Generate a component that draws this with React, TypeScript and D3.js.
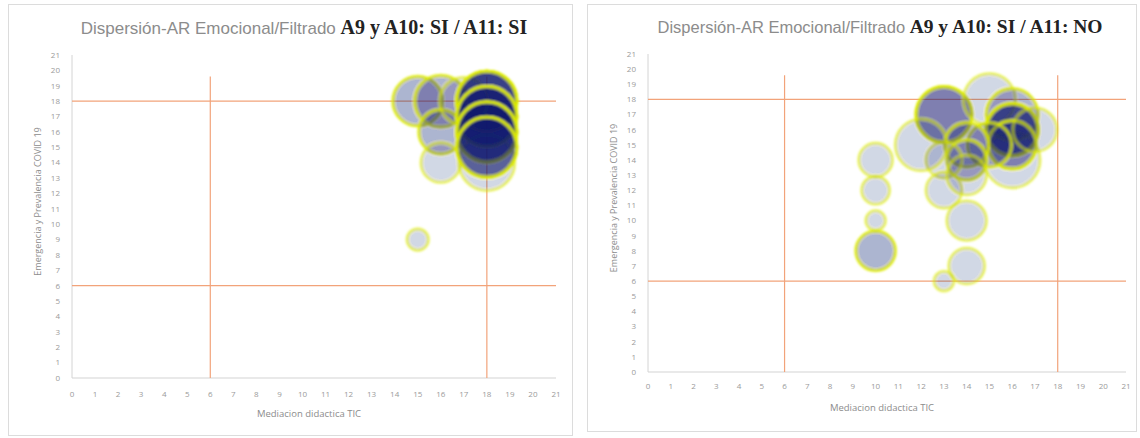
import React from "react";
import * as d3 from "d3";

const xTicks = d3.range(0, 22);
const yTicks = d3.range(0, 22);
const cutLow = 6;
const cutHigh = 18;

const leftX = [15, 16, 16, 16, 17, 18, 18, 18, 18, 18, 15];
const leftY = [18, 18, 16, 14, 18, 14, 18, 17, 16, 15, 9];
const leftSize = [6.9, 7.5, 5.4, 4.4, 6.4, 8.7, 10, 10, 10, 10, 1.3];
const leftLayers = [2, 2, 2, 1, 1, 1, 9, 7, 7, 5, 1];

const rightX = [13, 15, 16, 16, 16, 16, 17, 15, 14, 14, 13, 12, 13, 14, 14, 13, 10, 10, 10, 10, 14];
const rightY = [17, 18, 14, 17, 16, 15, 16, 15, 15, 14, 14, 15, 12, 10, 7, 6, 14, 12, 10, 8, 13];
const rightSize = [8.7, 7.5, 8.7, 7.5, 7.5, 6.4, 5.4, 5.4, 5.4, 4.4, 3.6, 7.5, 3.6, 4.4, 3.6, 1.1, 3.2, 2.2, 1.1, 4.4, 4.4];
const rightLayers = [4, 1, 1, 2, 6, 3, 1, 2, 2, 2, 1, 1, 1, 1, 1, 1, 1, 1, 1, 2, 1];

const rScale = d3.scaleSqrt().domain([0, 10]).range([0, 30]);

type PanelProps = {
  box: [number, number, number, number];
  xr: [number, number];
  yr: [number, number];
  titleX: number;
  titleY: number;
  boldText: string;
  xs: number[];
  ys: number[];
  sizes: number[];
  layers: number[];
  yTitleX: number;
  xTickY: number;
  xTitleY: number;
  fid: string;
  gsz: number;
  bsz: number;
};

function Panel(p: PanelProps) {
  const x = d3.scaleLinear().domain([0, 21]).range(p.xr);
  const y = d3.scaleLinear().domain([0, 21]).range(p.yr);
  const [bx, by, bw, bh] = p.box;
  const circles: JSX.Element[] = [];
  p.xs.forEach((xv, i) => {
    for (let k = 0; k < p.layers[i]; k++) {
      circles.push(
        <circle
          key={`${i}-${k}`}
          cx={x(xv)}
          cy={y(p.ys[i])}
          r={rScale(p.sizes[i])}
          fill="rgba(18,30,112,0.18)"
          stroke="rgba(225,240,0,0.55)"
          strokeWidth={3}
        />
      );
    }
  });
  const vTop = 19.6;
  return (
    <g>
      <rect x={bx} y={by} width={bw} height={bh} fill="#fff" stroke="#dcdcdc" strokeWidth={1} />
      <text x={p.titleX} y={p.titleY} textAnchor="middle" fontSize={p.gsz}>
        <tspan fill="#8c8c8c" fontFamily="'Liberation Sans', Arial, sans-serif">
          Dispersión-AR Emocional/Filtrado{" "}
        </tspan>
        <tspan fill="#222" fontFamily="'Liberation Serif', 'DejaVu Serif', serif" fontWeight="bold" fontSize={p.bsz}>
          {p.boldText}
        </tspan>
      </text>
      <line x1={x(0)} x2={x(0)} y1={y(0)} y2={y(21)} stroke="#d4d4d4" strokeWidth={1} />
      <line x1={x(0)} x2={x(21)} y1={y(0)} y2={y(0)} stroke="#d4d4d4" strokeWidth={1.2} />
      {yTicks.map((t) => (
        <text key={`y${t}`} x={x(0) - 12} y={y(t)} dy="0.35em" textAnchor="end" fontSize={8} fill="#9a9a9a" fontFamily="'Open Sans', sans-serif">
          {t}
        </text>
      ))}
      {xTicks.map((t) => (
        <text key={`x${t}`} x={x(t)} y={p.xTickY} dy="0.35em" textAnchor="middle" fontSize={8} fill="#9a9a9a" fontFamily="'Open Sans', sans-serif">
          {t}
        </text>
      ))}
      <text x={(x(0) + x(21)) / 2 - 5} y={p.xTitleY} dy="0.35em" textAnchor="middle" fontSize={9.5} fill="#8c8c8c" fontFamily="'Open Sans', sans-serif">
        Mediacion didactica TIC
      </text>
      <text
        transform={`translate(${p.yTitleX},${(y(0) + y(21)) / 2 - 15}) rotate(-90)`}
        textAnchor="middle"
        dy="0.35em"
        fontSize={9}
        fill="#8c8c8c"
        fontFamily="'Open Sans', sans-serif"
      >
        Emergencia y Prevalencia COVID 19
      </text>
      {[cutLow, cutHigh].map((c) => (
        <line key={`h${c}`} x1={x(0)} x2={x(21)} y1={y(c)} y2={y(c)} stroke="#f2a37a" strokeWidth={1.2} />
      ))}
      {[cutLow, cutHigh].map((c) => (
        <line key={`v${c}`} x1={x(c)} x2={x(c)} y1={y(0)} y2={y(vTop)} stroke="#f2a37a" strokeWidth={1.2} />
      ))}
      <g filter={`url(#${p.fid})`}>{circles}</g>
    </g>
  );
}

export default function App() {
  return (
    <svg width={1140} height={438} style={{ position: "absolute", left: 0, top: 0, background: "#fff" }}>
      <defs>
        <filter id="blurL" x="-20%" y="-20%" width="140%" height="140%">
          <feGaussianBlur stdDeviation={1.1} />
        </filter>
        <filter id="blurR" x="-20%" y="-20%" width="140%" height="140%">
          <feGaussianBlur stdDeviation={1.1} />
        </filter>
      </defs>
      <Panel
        box={[8.5, 4.5, 564, 431]}
        xr={[72, 556]}
        yr={[378, 55]}
        titleX={304}
        titleY={34}
        boldText="A9 y A10: SI / A11: SI"
        xs={leftX}
        ys={leftY}
        sizes={leftSize}
        layers={leftLayers}
        yTitleX={38}
        xTickY={394}
        xTitleY={414}
        fid="blurL"
        gsz={17}
        bsz={20}
      />
      <Panel
        box={[587.5, 4.5, 549, 427]}
        xr={[648, 1126]}
        yr={[372, 54]}
        titleX={880}
        titleY={33}
        boldText="A9 y A10: SI / A11: NO"
        xs={rightX}
        ys={rightY}
        sizes={rightSize}
        layers={rightLayers}
        yTitleX={614}
        xTickY={386}
        xTitleY={408}
        fid="blurR"
        gsz={16.5}
        bsz={19.5}
      />
    </svg>
  );
}
